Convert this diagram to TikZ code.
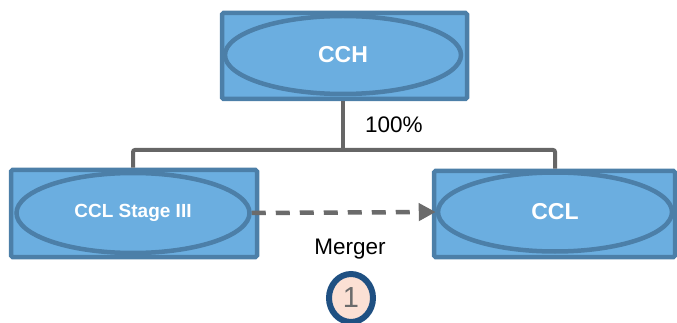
\documentclass[tikz,border=0pt]{standalone}
\usepackage{fontspec}
\setmainfont{Liberation Sans}
\usetikzlibrary{shapes.geometric,arrows.meta}
\definecolor{boxfill}{HTML}{6BAEE0}
\definecolor{boxline}{HTML}{4C7FA8}
\definecolor{conn}{HTML}{666666}
\definecolor{arrowgray}{HTML}{6B6B6B}
\definecolor{circfill}{HTML}{FBE0D4}
\definecolor{circline}{HTML}{1F5082}
\tikzset{
  x=1pt, y=-1pt,
  entbox/.style={draw=boxline, fill=boxfill, line width=4.5pt, rounded corners=1.5pt, inner sep=0pt},
  entell/.style={ellipse, draw=boxline, fill=boxfill, line width=4.5pt, inner sep=0pt, text=white, font=\bfseries\fontsize{23}{27}\selectfont},
  conline/.style={draw=conn, line width=4pt, rounded corners=2pt},
  lbl/.style={font=\fontsize{22.5}{27}\selectfont, inner sep=0pt}
}
\begin{document}
\begin{tikzpicture}
\useasboundingbox (0,0) rectangle (677,323);
\begin{scope}
\clip (0,0) rectangle (677,323);
% boxes
\node[entbox, minimum width=245pt, minimum height=86pt] (cchbox) at (344.5,56) {};
\node[entbox, minimum width=246pt, minimum height=87pt] (stgbox) at (134,213.5) {};
\node[entbox, minimum width=241pt, minimum height=86pt] (cclbox) at (554.5,214) {};
% ellipses
\node[entell, minimum width=236pt, minimum height=78pt] (cch) at (343,55) {CCH};
\node[entell, minimum width=233pt, minimum height=80pt, font=\bfseries\fontsize{19}{23}\selectfont] (stg) at (133,213) {CCL Stage III};
\node[entell, minimum width=234pt, minimum height=79pt] (ccl) at (555,212) {CCL};
% ownership tree
\coordinate (jn) at (343,150);
\draw[conline] (cchbox.south -| jn) -- (jn);
\draw[conline] (stgbox.north -| stg) -- (stg |- jn) -- (ccl |- jn) -- (cclbox.north -| ccl);
\node[lbl, anchor=west] (pct) at (365,125) {100\%};
% merger arrow
\draw[draw=arrowgray, line width=4.5pt, dash pattern=on 14pt off 10pt,
  -{Triangle[length=17pt,width=17pt]}] (stg.east) -- (ccl.west);
\node[lbl] (merger) at (350,249) {Merger};
% step marker
\node[ellipse, draw=circline, fill=circfill, line width=6pt, minimum width=44pt, minimum height=48pt, inner sep=0pt, text=arrowgray, font=\fontsize{29}{32}\selectfont] (step1) at (351,298) {1};
\end{scope}
\end{tikzpicture}
\end{document}
